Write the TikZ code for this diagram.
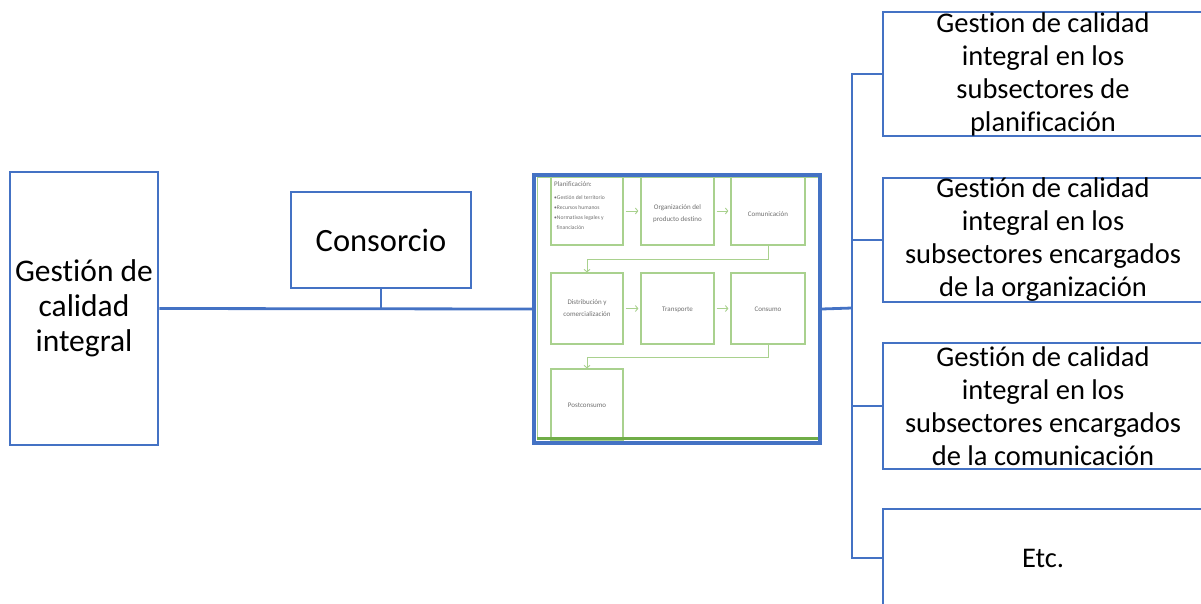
\documentclass[tikz,border=0pt]{standalone}
\usepackage{fontspec}
\setmainfont{Carlito}[Ligatures={NoCommon}]
\usetikzlibrary{arrows.meta}
\definecolor{ofblue}{HTML}{4472C4}
\definecolor{stgreen}{HTML}{A9D18E}
\definecolor{stgreendark}{HTML}{70AD47}
\definecolor{stgray}{HTML}{6F6F6F}
\begin{document}
\begin{tikzpicture}[x=1pt,y=-1pt,
  box/.style={draw=ofblue, line width=2.8pt, fill=white, inner sep=0pt},
  bigtxt/.style={align=center, inner sep=0pt, font=\fontsize{31.5}{35}\selectfont},
  subtxt/.style={align=center, inner sep=0pt, font=\fontsize{28.5}{33}\selectfont},
  link/.style={draw=ofblue, line width=2.8pt},
  stage/.style={draw=stgreen, line width=1.2pt, inner sep=0pt},
  stagetxt/.style={align=center, inner sep=0pt, text=stgray, font=\fontsize{7}{12}\selectfont},
  flowarrow/.style={draw=stgreen, line width=0.9pt, -{Straight Barb[length=2.5pt,width=6pt]}}]
\useasboundingbox (0,0) rectangle (1201,603);
\clip (0,0) rectangle (1201,603);

% left column
\node[box, minimum width=148pt, minimum height=273pt] (gci) at (84,308.5) {};
\node[bigtxt] (gcitxt) at (gci.center) {Gestión de\\calidad\\integral};
\node[box, minimum width=180pt, minimum height=96pt] (cons) at (381,240) {};
\node[bigtxt, font=\fontsize{32.5}{35}\selectfont] (constxt) at (cons.center) {Consorcio};

% process chart (embedded figure)
\draw[stgreen, line width=1pt] (537,177) rectangle (818,439);
\node[stage, minimum width=72pt, minimum height=68pt] (p1) at (587,211) {};
\node[stage, minimum width=73pt, minimum height=68pt] (p2) at (677.5,211) {};
\node[stage, minimum width=74pt, minimum height=68pt] (p3) at (768,211) {};
\node[stage, minimum width=72pt, minimum height=71pt] (q1) at (587,308.5) {};
\node[stage, minimum width=73pt, minimum height=71pt] (q2) at (677.5,308.5) {};
\node[stage, minimum width=74pt, minimum height=71pt] (q3) at (768,308.5) {};
\node[stage, minimum width=72pt, minimum height=72pt] (s1) at (587,405) {};

\node[stagetxt, align=left, anchor=north west, font=\fontsize{5.6}{10}\selectfont] (p1txt) at (554,181)
  {{\fontsize{7}{10}\selectfont Planificación:}\\[3pt]
   •Gestión del territorio\\•Recursos humanos\\•Normativas legales y\\\ \ financiación};
\node[stagetxt] (p2txt) at ([yshift=-3pt]p2.center) {Organización del\\producto destino};
\node[stagetxt] (p3txt) at ([yshift=-3pt]p3.center) {Comunicación};
\node[stagetxt] (q1txt) at (q1.center) {Distribución y\\comercialización};
\node[stagetxt] (q2txt) at ([yshift=-1pt]q2.center) {Transporte};
\node[stagetxt] (q3txt) at ([yshift=-1pt]q3.center) {Consumo};
\node[stagetxt] (s1txt) at (s1.center) {Postconsumo};

\draw[flowarrow] ([xshift=2pt]p1.east) -- ([xshift=-2pt]p2.west);
\draw[flowarrow] ([xshift=2pt]p2.east) -- ([xshift=-2pt]p3.west);
\draw[flowarrow] ([xshift=2pt]q1.east) -- ([xshift=-2pt]q2.west);
\draw[flowarrow] ([xshift=2pt]q2.east) -- ([xshift=-2pt]q3.west);
\draw[flowarrow] (p3.south) -- ++(0,14) -| (q1.north);
\draw[flowarrow] (q3.south) -- ++(0,12.5) -| (s1.north);

\draw[stgreendark, line width=2.5pt] (537,438.5) -- (818,438.5);
\node[draw=ofblue, line width=3.2pt, inner sep=0pt, minimum width=286pt, minimum height=268pt] (flow) at (677,309) {};

% subsector boxes
\node[box, minimum width=320pt, minimum height=124pt] (r1) at (1043,74) {};
\node[box, minimum width=320pt, minimum height=124pt] (r2) at (1043,240) {};
\node[box, minimum width=320pt, minimum height=126pt] (r3) at (1043,406) {};
\node[box, minimum width=320pt, minimum height=98pt] (r4) at (1043,558) {};
\node[subtxt] (r1txt) at (r1.center) {Gestion de calidad\\integral en los\\subsectores de\\planificación};
\node[subtxt] (r2txt) at (r2.center) {Gestión de calidad\\integral en los\\subsectores encargados\\de la organización};
\node[subtxt] (r3txt) at (r3.center) {Gestión de calidad\\integral en los\\subsectores encargados\\de la comunicación};
\node[subtxt] (r4txt) at (r4.center) {Etc.};

% connectors
\coordinate (trunk) at (852,308);
\draw[link] (gci.east) -- (flow.west);
\draw[link] (cons.south) -- (cons.south |- gci.east);
\draw[link] (flow.east) -- (trunk);
\draw[link] (r1.west) -| (trunk) |- (r4.west);
\draw[link] (r2.west) -- (r2.west -| trunk);
\draw[link] (r3.west) -- (r3.west -| trunk);
\end{tikzpicture}
\end{document}
